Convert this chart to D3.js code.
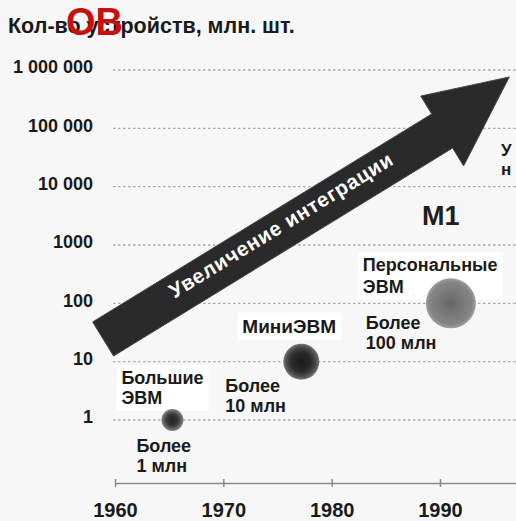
<!DOCTYPE html>
<html><head><meta charset="utf-8">
<script src="https://cdn.jsdelivr.net/npm/d3@7"></script>
<style>
html,body{margin:0;padding:0;background:#f7f7f7;}
svg{display:block;}
text{font-family:"Liberation Sans",Arial,sans-serif;}
</style></head>
<body>
<svg id="chart" width="516" height="521"></svg>
<script>
// ---- data ----
const years = [1965.3, 1977.2, 1991];
const counts = [1, 10, 100];
const bubbleNames = [["Большие", "ЭВМ"], ["МиниЭВМ"], ["Персональные", "ЭВМ"]];
const bubbleNotes = [["Более", "1 млн"], ["Более", "10 млн"], ["Более", "100 млн"]];
const yTicks = [1, 10, 100, 1000, 10000, 100000, 1000000];
const yTickLabels = ["1", "10", "100", "1000", "10 000", "100 000", "1 000 000"];
const xTicks = [1960, 1970, 1980, 1990];
// arrow anchors: tail centre, head-base centre, tip
const arrowYears = [1958.9, 1990.2, 1996.4];
const arrowValues = [24.5, 90000, 760000];
const arrowLabel = "Увеличение интеграции";
const titleText = "Кол-во устройств, млн. шт.";
const overlayText = "OB";
const stageLabel = "М1";
const edgeLabels = ["У", "н"];

// ---- scales ----
const W = 516, H = 521;
const x = d3.scaleLinear().domain([1960, 1990]).range([115, 440]);
const y = d3.scaleLog().domain([1, 1e6]).range([420, 70]);
const r = d3.scaleLog().domain([1, 100]).range([11, 25]);

const svg = d3.select("#chart");
svg.append("rect").attr("width", W).attr("height", H).attr("fill", "#f7f7f7");

const defs = svg.append("defs");
const grads = [
  [["0%", "#222222"], ["50%", "#363636"], ["78%", "#5e5e5e"], ["100%", "#888888"]],
  [["0%", "#1a1a1a"], ["55%", "#2b2b2b"], ["82%", "#4c4c4c"], ["100%", "#787878"]],
  [["0%", "#666666"], ["40%", "#767676"], ["85%", "#858585"], ["100%", "#a0a0a0"]]
];
grads.forEach((st, i) => {
  const g = defs.append("radialGradient").attr("id", "bg" + i);
  st.forEach(s => g.append("stop").attr("offset", s[0]).attr("stop-color", s[1]));
});
defs.append("filter").attr("id", "soft").append("feGaussianBlur").attr("stdDeviation", 0.7);

// ---- title ----
svg.append("text").attr("x", 8).attr("y", 33)
  .attr("font-size", 21.5).attr("font-weight", "bold").attr("fill", "#1a1a1a")
  .text(titleText);
svg.append("text").attr("x", 66).attr("y", 35)
  .attr("font-size", 38).attr("font-weight", "bold").attr("fill", "#c8100f")
  .text(overlayText);

// ---- gridlines ----
svg.append("g").selectAll("line").data(yTicks).join("line")
  .attr("x1", 113).attr("x2", W)
  .attr("y1", d => y(d)).attr("y2", d => y(d))
  .attr("stroke", "#ababab").attr("stroke-width", 1.3).attr("stroke-dasharray", "2.5,2.5");

// ---- y tick labels ----
svg.append("g").selectAll("text").data(yTicks).join("text")
  .attr("x", 93).attr("y", d => y(d) - 3).attr("dy", "0.35em")
  .attr("text-anchor", "end").attr("font-size", 18).attr("font-weight", "bold").attr("fill", "#1a1a1a")
  .text((d, i) => yTickLabels[i]);

// ---- x axis ----
const xAxisScale = x.copy().domain([1960, x.invert(W)]).range([115, W]);
const xa = svg.append("g").attr("transform", "translate(0,483)")
  .call(d3.axisBottom(xAxisScale).tickValues(xTicks).tickSize(4).tickSizeOuter(0).tickFormat(d3.format("d")));
xa.select(".domain").attr("stroke", "#8a8a8a").attr("stroke-width", 1.5);
xa.selectAll(".tick line").attr("stroke", "#8a8a8a").attr("stroke-width", 1.5).attr("y1", -4).attr("y2", 4);
xa.selectAll(".tick text").attr("y", 34).attr("dy", 0)
  .attr("font-size", 20).attr("font-weight", "bold").attr("fill", "#1a1a1a")
  .attr("font-family", "Liberation Sans, Arial, sans-serif");

// ---- arrow ----
const P = arrowYears.map((yr, i) => [x(yr), y(arrowValues[i])]);
const p0 = P[0], pb = P[1], pt = P[2];
const bx = pb[0] - p0[0], by = pb[1] - p0[1];
const Lb = Math.hypot(bx, by);
const ux = bx / Lb, uy = by / Lb, nx = -uy, ny = ux;
const sw = 20, hw = 41;
const pt2 = (a, p) => [p0[0] + ux * a + nx * p, p0[1] + uy * a + ny * p];
const arrowPts = [pt2(0, -sw), pt2(Lb, -sw), pt2(Lb, -hw), pt, pt2(Lb, hw), pt2(Lb, sw), pt2(0, sw)];
svg.append("polygon").attr("points", arrowPts.map(p => p.join(",")).join(" "))
  .attr("fill", "#2a2a2a").attr("stroke", "#4a4a4a").attr("stroke-width", 1).attr("stroke-linejoin", "miter");
const ang = Math.atan2(by, bx) * 180 / Math.PI;
const tc = pt2(211, 3);
svg.append("text").attr("transform", `translate(${tc[0]},${tc[1]}) rotate(${ang})`)
  .attr("text-anchor", "middle")
  .attr("font-size", 20.5).attr("font-weight", "bold").attr("fill", "#ffffff")
  .attr("textLength", 258).attr("lengthAdjust", "spacing")
  .text(arrowLabel);

// ---- labels with boxes ----
const nameOffsets = [[-51, -36], [-59, -29], [-88, -32]];
const noteOffsets = [[-36, 32], [-76, 30], [-85, 26]];
const nameSizes = [18, 19, 18];
const lineGap = [20, 20, 22];
const labelG = svg.append("g");
years.forEach((yr, i) => {
  const cx = x(yr), cy = y(counts[i]);
  const t = labelG.append("text").attr("font-size", nameSizes[i]).attr("font-weight", "bold").attr("fill", "#1a1a1a");
  bubbleNames[i].forEach((ln, j) => {
    t.append("tspan").attr("x", cx + nameOffsets[i][0]).attr("y", cy + nameOffsets[i][1] + j * lineGap[i]).text(ln);
  });
  const bb = t.node().getBBox();
  labelG.insert("rect", "text").attr("x", bb.x - 5).attr("y", bb.y - 3)
    .attr("width", bb.width + 10).attr("height", bb.height + 6).attr("fill", "#ffffff");
  const n = labelG.append("text").attr("font-size", 18).attr("font-weight", "bold").attr("fill", "#1a1a1a");
  bubbleNotes[i].forEach((ln, j) => {
    n.append("tspan").attr("x", cx + noteOffsets[i][0]).attr("y", cy + noteOffsets[i][1] + j * 20).text(ln);
  });
});

// ---- bubbles ----
svg.append("g").selectAll("circle").data(years).join("circle")
  .attr("cx", d => x(d)).attr("cy", (d, i) => y(counts[i]))
  .attr("r", (d, i) => r(counts[i]))
  .attr("fill", (d, i) => `url(#bg${i})`).attr("filter", "url(#soft)");

// ---- other texts ----
svg.append("text").attr("x", 422).attr("y", 225)
  .attr("font-size", 27).attr("font-weight", "bold").attr("fill", "#1e1e1e").text(stageLabel);
svg.append("g").selectAll("text").data(edgeLabels).join("text")
  .attr("x", 501).attr("y", (d, i) => 156 + i * 19)
  .attr("font-size", 17).attr("font-weight", "bold").attr("fill", "#1a1a1a").text(d => d);
</script>
</body></html>
